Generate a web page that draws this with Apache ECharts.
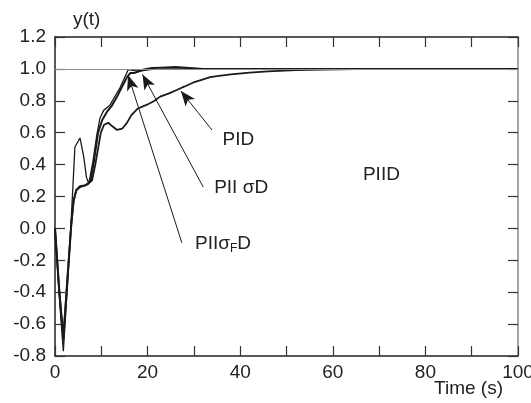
<!DOCTYPE html>
<html>
<head>
<meta charset="utf-8">
<script src="https://cdn.jsdelivr.net/npm/echarts@6/dist/echarts.min.js"></script>
<style>
    html, body { margin: 0; padding: 0; background: #fff; }
    #chart { width: 531px; height: 403px; }
</style>
</head>
<body>
<div id="chart"></div>
<script>
    // time (s) and response y(t)
    const pidT = [0, 0.9, 1.8, 2.7, 3.5, 4.0, 4.6, 5.4, 6.5, 7.3, 8.0, 8.7, 9.3, 9.9, 10.6, 11.5, 12.4, 13.4, 14.5, 15.5, 16.5, 17.8, 19.0, 20.2, 21.5, 22.7, 24.5, 26.3, 28, 29.9, 31.5, 33.5, 35, 38, 42, 46, 52, 58, 65, 75, 100];
    const pidY = [0, -0.38, -0.68, -0.30, 0.02, 0.17, 0.24, 0.265, 0.27, 0.285, 0.30, 0.40, 0.50, 0.60, 0.65, 0.662, 0.64, 0.617, 0.625, 0.66, 0.71, 0.75, 0.765, 0.78, 0.80, 0.826, 0.845, 0.868, 0.89, 0.915, 0.93, 0.948, 0.955, 0.966, 0.977, 0.984, 0.992, 0.996, 0.999, 1.0, 1.0];

    const psdT = [0, 0.9, 1.8, 2.7, 3.5, 4.0, 4.6, 5.4, 6.5, 7.2, 7.7, 8.5, 9.3, 10.2, 11.2, 12.3, 13.3, 14.5, 15.6, 16.3, 17.2, 18.2, 19.2, 21, 23, 26, 29, 32, 100];
    const psdY = [0, -0.38, -0.70, -0.32, 0.02, 0.17, 0.24, 0.26, 0.27, 0.28, 0.30, 0.44, 0.60, 0.68, 0.73, 0.77, 0.82, 0.89, 0.95, 0.975, 0.975, 0.985, 0.996, 1.005, 1.008, 1.012, 1.006, 1.0, 1.0];

    const psfdT = [0, 0.9, 1.8, 2.7, 3.4, 3.9, 4.3, 5.4, 6.2, 6.8, 7.3, 8.2, 9.0, 9.7, 10.5, 11.8, 13.0, 14.0, 14.8, 15.8, 16.5, 17.5, 19, 21, 24, 100];
    const psfdY = [0, -0.42, -0.77, -0.35, 0.0, 0.28, 0.51, 0.567, 0.45, 0.32, 0.28, 0.42, 0.58, 0.69, 0.74, 0.77, 0.83, 0.88, 0.93, 0.995, 0.993, 0.987, 0.99, 0.997, 1.0, 1.0];

    const xMin = 0, xMax = 100, xStep = 10;
    const yMin = -0.8, yMax = 1.2, yStep = 0.2;

    function zip(t, v) {
        return t.map((x, i) => [x, v[i]]);
    }

    let myChart = echarts.init(document.getElementById('chart'));

    const font = 'Liberation Sans, Arial, sans-serif';
    const ink = '#1a1a1a';

    const xBase = {
        type: 'value', min: xMin, max: xMax, interval: xStep,
        splitLine: { show: false },
        axisTick: { inside: true, length: 10, lineStyle: { color: '#333', width: 1.2 } }
    };
    const yBase = {
        type: 'value', min: yMin, max: yMax, interval: yStep,
        splitLine: { show: false },
        axisTick: { inside: true, length: 10, lineStyle: { color: '#333', width: 1.2 } }
    };

    let option = {
        animation: false,
        backgroundColor: '#fff',
        grid: { left: 55, right: 13, top: 37, bottom: 47, outerBoundsMode: 'none', containLabel: false },
        // x axis title sits under the right end of the axis
        graphic: [{
            type: 'text', right: 28, top: 379,
            style: { text: 'Time (s)', fill: '#222', font: '19px ' + font }
        }],
        xAxis: [
            Object.assign({}, xBase, {
                position: 'bottom',
                axisLine: { onZero: false, lineStyle: { color: '#222', width: 1.5 } },
                axisLabel: {
                    margin: 7, color: '#222', fontSize: 19, fontFamily: font,
                    formatter: v => (v % 20 === 0 ? String(v) : '')
                }
            }),
            Object.assign({}, xBase, {
                position: 'top',
                axisLine: { onZero: false, lineStyle: { color: '#222', width: 1.5 } },
                axisLabel: { show: false }
            })
        ],
        yAxis: [
            Object.assign({}, yBase, {
                position: 'left',
                axisLine: { show: true, onZero: false, lineStyle: { color: '#222', width: 1.5 } },
                axisLabel: {
                    margin: 9, color: '#222', fontSize: 19, fontFamily: font,
                    formatter: v => v.toFixed(1)
                },
                name: 'y(t)', nameLocation: 'end', nameGap: 8,
                nameTextStyle: {
                    color: '#222', fontSize: 19, fontFamily: font,
                    align: 'left', padding: [0, 0, 0, 18]
                }
            }),
            Object.assign({}, yBase, {
                position: 'right',
                axisLine: { show: true, onZero: false, lineStyle: { color: '#888', width: 1.5 } },
                axisLabel: { show: false }
            })
        ],
        series: [
            {
                name: 'PID', type: 'line', data: zip(pidT, pidY),
                symbol: 'none', lineStyle: { color: ink, width: 1.8 },
                markLine: {
                    silent: true, symbol: 'none', label: { show: false },
                    lineStyle: { color: '#9a8c8c', width: 1, type: 'solid' },
                    data: [{ yAxis: 1 }]
                }
            },
            {
                name: 'PII σD', type: 'line', data: zip(psdT, psdY),
                symbol: 'none', lineStyle: { color: ink, width: 2 },
                markLine: {
                    silent: true, symbol: ['none', 'arrow'], symbolSize: [9, 15],
                    label: { show: false },
                    lineStyle: { color: ink, width: 1, type: 'solid' },
                    data: [
                        [{ coord: [33.9, 0.617] }, { coord: [27.2, 0.861] }],
                        [{ coord: [32.0, 0.26] }, { coord: [18.9, 0.965] }],
                        [{ coord: [27.4, -0.09] }, { coord: [15.8, 0.96] }]
                    ]
                }
            },
            {
                name: 'PIIσFD', type: 'line', data: zip(psfdT, psfdY),
                symbol: 'none', lineStyle: { color: ink, width: 1.3 },
                markPoint: {
                    silent: true, symbol: 'circle', symbolSize: 1,
                    itemStyle: { color: 'rgba(0,0,0,0)' },
                    label: {
                        show: true, position: 'inside', color: '#222',
                        fontSize: 19, fontFamily: font,
                        rich: {
                            a: { fontSize: 19, fontFamily: font, color: '#222' },
                            s: { fontSize: 12, fontFamily: font, color: '#222', padding: [9, 0, 0, 0] }
                        }
                    },
                    data: [
                        { coord: [39.6, 0.554], label: { formatter: 'PID' } },
                        { coord: [40.2, 0.253], label: { formatter: 'PII σD' } },
                        { coord: [70.5, 0.335], label: { formatter: 'PIID' } },
                        { coord: [36.3, -0.098], label: { formatter: '{a|PIIσ}{s|F}{a|D}' } }
                    ]
                }
            }
        ]
    };

    myChart.setOption(option);
</script>
</body>
</html>
